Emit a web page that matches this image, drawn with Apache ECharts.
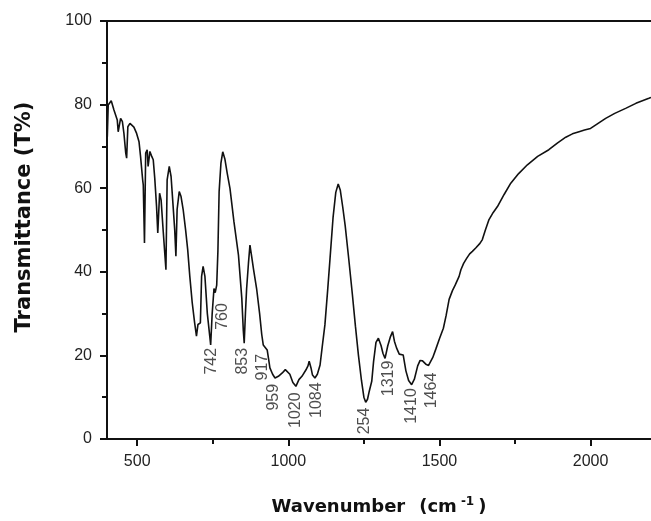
<!DOCTYPE html>
<html>
<head>
<meta charset="utf-8">
<script src="https://cdn.jsdelivr.net/npm/echarts@6/dist/echarts.min.js"></script>
<style>
html, body { margin: 0; padding: 0; background: #fff; }
#chart { width: 651px; height: 521px; }
</style>
</head>
<body>
<div id="chart"></div>
<script>
// FTIR spectrum
const waveNumber = [
  401, 404, 414, 423, 434, 437, 445, 451, 456, 462, 465, 469, 476, 489, 498, 506, 511, 518, 520, 524,
  528, 533, 536, 542, 548, 553, 558, 564, 568, 574, 579, 582, 586, 590, 595, 599, 606, 612, 618, 624,
  628, 632, 639, 645, 652, 660, 667, 674, 682, 690, 696, 701, 709, 713, 718, 724, 732, 740, 743, 748,
  754, 758, 763, 767, 771, 777, 783, 790, 798, 807, 820, 835, 846, 851, 854, 858, 862, 868, 873, 878,
  885, 895, 905, 912, 917, 922, 930, 935, 939, 948, 956, 967, 980, 990, 995, 1005, 1015, 1025, 1035, 1045,
  1050, 1058, 1065, 1069, 1075, 1080, 1088, 1096, 1105, 1112, 1121, 1130, 1138, 1148, 1157, 1165, 1172, 1180, 1188, 1200,
  1212, 1222, 1232, 1242, 1250, 1256, 1262, 1268, 1276, 1282, 1290, 1298, 1307, 1313, 1320, 1329, 1338, 1345, 1351, 1358,
  1367, 1380, 1389, 1398, 1408, 1417, 1428, 1436, 1444, 1455, 1464, 1469, 1478, 1488, 1500, 1513, 1522, 1532, 1543, 1552,
  1565, 1571, 1580, 1590, 1600, 1609, 1620, 1634, 1642, 1652, 1664, 1678, 1692, 1714, 1736, 1762, 1791, 1825, 1862, 1890,
  1918, 1940, 1962, 1980, 2000, 2025, 2050, 2080, 2116, 2150, 2193, 2200
];
const transmittance = [
  72.3, 79.9, 80.9, 78.7, 76.3, 73.5, 76.7, 75.9, 73.1, 68.4, 67.2, 74.7, 75.5, 74.6, 73.1, 71.1, 67.6, 62.0, 60.8, 46.9,
  68.4, 69.2, 65.2, 68.8, 67.6, 66.8, 62.4, 55.6, 49.3, 58.8, 57.2, 57.0, 49.7, 50.1, 40.5, 62.0, 65.2, 62.8, 56.5, 50.1,
  43.7, 54.9, 59.2, 58.0, 54.9, 50.1, 45.3, 38.9, 32.6, 27.8, 24.6, 27.4, 27.8, 38.9, 41.3, 38.9, 30.0, 24.6, 22.5, 30.0,
  36.0, 35.0, 36.8, 45.0, 59.2, 66.0, 68.7, 67.0, 63.5, 59.9, 52.0, 44.0, 33.7, 26.0, 22.9, 30.0, 36.0, 42.0, 46.4, 44.0,
  40.5, 36.0, 30.0, 25.0, 22.5, 22.5, 21.3, 19.0, 17.0, 15.5, 14.6, 15.0, 15.8, 16.6, 17.0, 15.5, 13.5, 12.6, 14.2, 15.0,
  15.4, 16.5, 17.5, 18.6, 17.0, 15.3, 14.6, 15.5, 17.7, 22.0, 27.3, 35.5, 43.2, 53.0, 59.0, 61.0, 59.5, 55.5, 51.1, 43.0,
  34.5, 27.0, 20.0, 14.0, 10.0, 8.8, 9.5, 11.5, 13.8, 18.5, 23.1, 24.1, 22.3, 20.5, 19.3, 22.3, 24.5, 25.7, 23.4, 21.8,
  20.3, 20.1, 16.3, 14.0, 13.0, 14.3, 17.5, 18.8, 18.7, 17.9, 17.6, 17.7, 19.5, 21.5, 24.0, 26.5, 29.5, 33.4, 35.5, 36.8,
  38.9, 40.5, 42.0, 43.2, 44.3, 44.9, 45.7, 46.8, 47.7, 50.0, 52.5, 54.2, 55.6, 58.5, 61.2, 63.5, 65.6, 67.6, 69.2, 70.8,
  72.2, 73.0, 73.5, 73.9, 74.3, 75.5, 76.7, 77.9, 79.1, 80.3, 81.5, 81.7
];

const xMajorTicks = [500, 1000, 1500, 2000];
const xMinorTicks = [750, 1250, 1750];

// peak annotations (text, and where the rotated text sits in data units)
const peakLabels = ['742', '760', '853', '917', '959', '1020', '1084', '254', '1319', '1410', '1464'];
const peakLabelX = [745, 783, 849, 915, 950, 1024, 1095, 1252, 1331, 1409, 1475];
const peakLabelY = [18.6, 29.3, 18.6, 17.2, 10.0, 6.9, 9.3, 4.3, 14.5, 7.9, 11.6];

const chart = echarts.init(document.getElementById('chart'), null, { renderer: 'canvas' });

const lineColor = '#111';
const tickFont = 'Liberation Sans';

chart.setOption({
  animation: false,
  backgroundColor: '#fff',
  grid: { left: 107, right: 0, top: 21, bottom: 81 },
  xAxis: [
    {
      type: 'value',
      position: 'bottom',
      min: 400,
      max: 2200,
      name: '{w|Wavenumber}{p|(cm}{s|-1}{p|)}',
      nameLocation: 'middle',
      nameGap: 57,
      nameTextStyle: {
        rich: {
          w: { fontFamily: 'DejaVu Sans', fontWeight: 'bold', fontSize: 18, color: '#111', padding: [0, 14, 0, 0] },
          p: { fontFamily: 'DejaVu Sans', fontWeight: 'bold', fontSize: 18, color: '#111' },
          s: { fontFamily: 'DejaVu Sans', fontWeight: 'bold', fontSize: 12, color: '#111', verticalAlign: 'top', padding: [0, 4, 10, 4] }
        }
      },
      axisLine: { show: true, onZero: false, lineStyle: { color: lineColor, width: 2 } },
      axisTick: { show: true, inside: false, length: 7, customValues: xMajorTicks, lineStyle: { color: lineColor, width: 2 } },
      axisLabel: {
        show: true,
        customValues: xMajorTicks,
        margin: 15,
        fontFamily: tickFont,
        fontSize: 16,
        color: '#222',
        formatter: v => String(v)
      },
      splitLine: { show: false }
    },
    {
      type: 'value',
      position: 'bottom',
      min: 400,
      max: 2200,
      axisLine: { show: false },
      axisTick: { show: true, inside: false, length: 5, customValues: xMinorTicks, lineStyle: { color: lineColor, width: 2 } },
      axisLabel: { show: false },
      splitLine: { show: false }
    },
    {
      type: 'value',
      position: 'top',
      min: 400,
      max: 2200,
      axisLine: { show: true, onZero: false, lineStyle: { color: lineColor, width: 2 } },
      axisTick: { show: false },
      axisLabel: { show: false },
      splitLine: { show: false }
    }
  ],
  yAxis: {
    type: 'value',
    min: 0,
    max: 100,
    interval: 20,
    name: 'Transmittance (T%)',
    nameLocation: 'middle',
    nameGap: 72,
    nameTextStyle: {
      fontFamily: 'DejaVu Sans',
      fontWeight: 'bold',
      fontSize: 21,
      color: '#111',
      padding: [0, 0, 0, 26]
    },
    axisLine: { show: true, onZero: false, lineStyle: { color: lineColor, width: 2 } },
    axisTick: { show: true, inside: false, length: 7, lineStyle: { color: lineColor, width: 2 } },
    minorTick: { show: true, splitNumber: 2, length: 5, lineStyle: { color: lineColor, width: 2 } },
    axisLabel: { margin: 15, fontFamily: tickFont, fontSize: 16, color: '#222' },
    splitLine: { show: false },
    minorSplitLine: { show: false }
  },
  series: [
    {
      type: 'line',
      xAxisIndex: 0,
      symbol: 'none',
      lineStyle: { color: lineColor, width: 1.6 },
      data: waveNumber.map((x, i) => [x, transmittance[i]])
    },
    {
      type: 'scatter',
      xAxisIndex: 0,
      symbolSize: 0,
      silent: true,
      label: {
        show: true,
        position: 'inside',
        rotate: 90,
        fontFamily: tickFont,
        fontSize: 16,
        color: '#222',
        formatter: p => p.data[2]
      },
      data: peakLabels.map((t, i) => [peakLabelX[i], peakLabelY[i], t])
    }
  ]
});
</script>
</body>
</html>
